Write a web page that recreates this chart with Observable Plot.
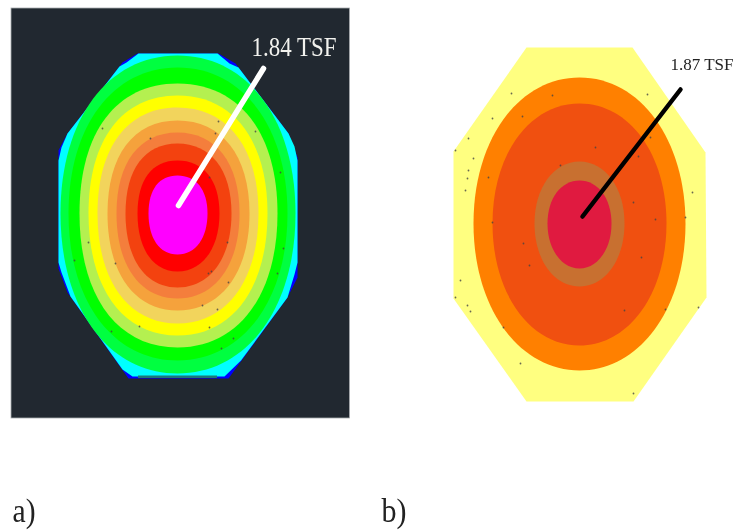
<!DOCTYPE html>
<html>
<head>
<meta charset="utf-8">
<script src="https://cdn.jsdelivr.net/npm/d3@7"></script>
<script src="https://cdn.jsdelivr.net/npm/@observablehq/plot@0.6"></script>
<style>
html,body{margin:0;padding:0;background:#fff}
svg{display:block;filter:blur(0.6px)}
</style>
</head>
<body>
<div id="chart"></div>
<script>
// Panel a: bands from outer to inner, edges
const aColors = ["#00ff40","#00ff00","#b4f050","#ffff00","#f2d45c","#f5a23c","#f47e3c","#f3420f","#ff0000","#ff00ff"];
const aLeft   = [60,68,79,88,97,107,116,125,137,148];
const aRight  = [295,287,277,267,258,249,239,231,219,207];
const aTop    = [55,67,83,95,107,120,132,143,160,175];
const aBottom = [373,360,347,335,323,310,298,287,271,254];
const aMidX = 177, aMidY = 213;

const aBlueX = [137,218,235,288,297,297,287,228,128,67,58,58,67,122];
const aBlueY = [53,53,63,133,157,277,297,378,378,292,268,150,133,62];
const aCyanX = [138,217,229,238,288,294,297,297,294,287,240.5,224,132,122,70,61,58,58,61,67,119,126];
const aCyanY = [53,53,63,67,133,146,160,262,274,297,360,376,376,369,296,272,262,160,147,133,66,62];
const aBase = {x1:138,x2:217,y1:375.5,y2:378};

// Panel b
const bColors = ["#ff8000","#f05010","#c87030","#e01a40"];
const bLeft   = [473,492,534,547];
const bRight  = [685,666,624,611];
const bTop    = [77,103,161,180];
const bBottom = [370,345,286,268];
const bMidX = 579, bMidY = 223;

const bOctX = [526,632,705,706,633,526,453,453];
const bOctY = [47,47,152,297,401,401,298,151];

const frameA = {x1:11,x2:349.5,y1:8,y2:418};

const aSpeckX = [102,150,218,215,255,209,280,88,74,115,227,283,277,208,211,228,202,217,139,209,111,233,221];
const aSpeckY = [128,138,121,133,131,177,172,242,260,263,242,248,273,273,271,282,305,309,326,327,331,338,348];
const bSpeckX = [511,552,522,492,468,455,473,488,468,467,465,595,560,638,650,647,692,633,492,655,685,523,529,641,460,455,467,470,503,520,624,665,698,633];
const bSpeckY = [93,95,116,118,138,150,158,177,170,178,190,147,165,156,137,94,192,202,222,219,217,243,265,257,280,297,305,311,327,363,310,309,307,393];

const aLeader = {x:[178,263],y:[205,68]};
const bLeader = {x:[582,680],y:[216,89]};
const labels = [
  {t:"1.84 TSF",x:251,y:47,size:28,len:85,fill:"#f2f2ee",anchor:"start"},
  {t:"1.87 TSF",x:670,y:64,size:17.5,len:63,fill:"#222",anchor:"start"},
  {t:"a)",x:12,y:511,size:33,len:23,fill:"#222",anchor:"start"},
  {t:"b)",x:381,y:511,size:33,len:25,fill:"#222",anchor:"start"}
];

const ellipseOuter = d3.curveCardinalClosed.tension(-0.78);
const ellipseA = d3.curveCardinalClosed.tension(-0.85);
const ellipseB = d3.curveCardinalClosed.tension(-0.72);
function bands(colors,left,right,top,bottom,mx,my){
  const rows=[];
  colors.forEach((c,i)=>{
    rows.push({c,i,x:mx,y:top[i]},{c,i,x:right[i],y:my},{c,i,x:mx,y:bottom[i]},{c,i,x:left[i],y:my});
  });
  return rows;
}
const poly=(xs,ys)=>xs.map((x,i)=>({x,y:ys[i]}));
const aRows=bands(aColors,aLeft,aRight,aTop,aBottom,aMidX,aMidY);
const bRows=bands(bColors,bLeft,bRight,bTop,bBottom,bMidX,bMidY);

const chart = Plot.plot({
  width:736,height:532,margin:0,
  x:{domain:[0,736],range:[0,736],axis:null},
  y:{domain:[0,532],range:[0,532],axis:null},
  marks:[
    Plot.rect([frameA],{x1:"x1",x2:"x2",y1:"y1",y2:"y2",fill:"#212830",stroke:"#a8acb0",strokeWidth:0.8}),
    Plot.line(poly(aBlueX,aBlueY),{x:"x",y:"y",curve:"linear-closed",fill:"#0000ff",stroke:"none"}),
    Plot.line(poly(aCyanX,aCyanY),{x:"x",y:"y",curve:"linear-closed",fill:"#00ffff",stroke:"none"}),
    Plot.rect([aBase],{x1:"x1",x2:"x2",y1:"y1",y2:"y2",fill:"#1c7a78"}),
    Plot.line(aRows.filter(d=>d.i<2),{x:"x",y:"y",z:"i",fill:"c",stroke:"none",curve:ellipseOuter}),
    Plot.line(aRows.filter(d=>d.i>=2),{x:"x",y:"y",z:"i",fill:"c",stroke:"none",curve:ellipseA}),
    Plot.dot(aSpeckX.map((x,i)=>({x,y:aSpeckY[i]})),{x:"x",y:"y",r:0.9,fill:"#444",opacity:0.8}),
    Plot.line(poly(bOctX,bOctY),{x:"x",y:"y",curve:"linear-closed",fill:"#ffff80",stroke:"none"}),
    Plot.line(bRows,{x:"x",y:"y",z:"i",fill:"c",stroke:"none",curve:ellipseB}),
    Plot.dot(bSpeckX.map((x,i)=>({x,y:bSpeckY[i]})),{x:"x",y:"y",r:0.9,fill:"#444",opacity:0.8}),
    Plot.line(poly(aLeader.x,aLeader.y),{x:"x",y:"y",stroke:"#ffffff",strokeWidth:5.5,strokeLinecap:"round"}),
    Plot.line(poly(bLeader.x,bLeader.y),{x:"x",y:"y",stroke:"#000000",strokeWidth:4.5,strokeLinecap:"round"}),
    ...labels.map(l=>Plot.text([l],{x:"x",y:"y",text:"t",textAnchor:l.anchor,fontSize:l.size,fontFamily:"Liberation Serif",fill:l.fill,
      render(index,scales,values,dims,ctx,next){
        const g=next(index,scales,values,dims,ctx);
        g.querySelectorAll("text").forEach(t=>{t.setAttribute("textLength",l.len);t.setAttribute("lengthAdjust","spacingAndGlyphs");});
        return g;
      }}))
  ]
});
document.getElementById("chart").append(chart);
</script>
</body>
</html>
